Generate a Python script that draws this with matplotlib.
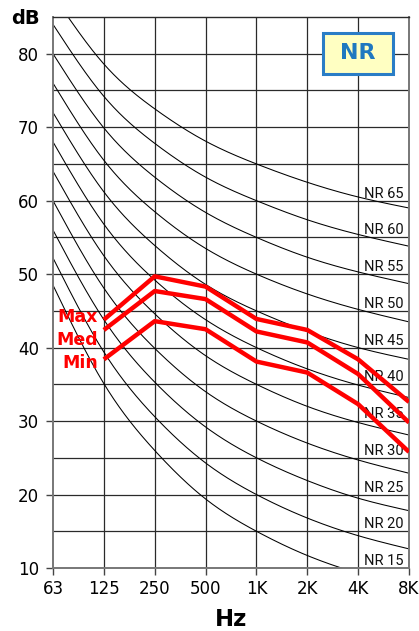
import numpy as np
import matplotlib
matplotlib.use("Agg")
import matplotlib.pyplot as plt
from matplotlib.patches import Rectangle

# ---------------- data ----------------
freq_labels = ["63", "125", "250", "500", "1K", "2K", "4K", "8K"]

# NR curve levels (dB) at the octave bands 63 ... 8K
nr_names = ["NR 15", "NR 20", "NR 25", "NR 30", "NR 35", "NR 40",
            "NR 45", "NR 50", "NR 55", "NR 60", "NR 65"]
nr15 = [48.5, 35.1, 26.0, 19.4, 15.0, 11.7, 9.3, 7.5]
nr20 = [52.2, 39.4, 30.6, 24.3, 20.0, 16.8, 14.4, 12.6]
nr25 = [56.0, 43.8, 35.3, 29.2, 25.0, 21.9, 19.5, 17.8]
nr30 = [60.0, 48.1, 39.9, 34.0, 30.0, 27.0, 24.7, 22.9]
nr35 = [64.0, 52.5, 44.6, 38.9, 35.0, 32.0, 29.8, 28.1]
nr40 = [68.0, 56.8, 49.2, 43.8, 40.0, 37.1, 34.9, 33.2]
nr45 = [72.0, 61.2, 53.9, 48.6, 45.0, 42.2, 40.0, 38.4]
nr50 = [76.0, 65.5, 58.5, 53.5, 50.0, 47.3, 45.2, 43.5]
nr55 = [80.0, 69.9, 63.2, 58.4, 55.0, 52.3, 50.3, 48.7]
nr60 = [84.0, 74.2, 67.8, 63.2, 60.0, 57.4, 55.4, 53.8]
nr65 = [88.0, 78.6, 72.5, 68.1, 65.0, 62.5, 60.5, 59.0]
nr_curves = [nr15, nr20, nr25, nr30, nr35, nr40, nr45, nr50, nr55, nr60, nr65]
nr_label_base = [10.4, 15.4, 20.4, 25.4, 30.4, 35.4, 40.4, 45.4, 50.4, 55.4, 60.4]

# measured spectra, 125 ... 8K
meas_names = ["Max", "Med", "Min"]
max_levels = [43.8, 49.7, 48.3, 43.9, 42.4, 38.4, 32.6]
med_levels = [42.4, 47.7, 46.6, 42.2, 40.7, 36.4, 29.8]
min_levels = [38.4, 43.6, 42.5, 38.1, 36.6, 32.3, 25.8]
meas_label_y = [44.1, 41.0, 37.9]

# ---------------- helpers ----------------
def natural_spline(x, y, xs):
    x = np.asarray(x, float); y = np.asarray(y, float)
    n = len(x)
    h = np.diff(x)
    A = np.zeros((n, n)); r = np.zeros(n)
    A[0, 0] = 1; A[-1, -1] = 1
    for i in range(1, n - 1):
        A[i, i - 1] = h[i - 1]
        A[i, i] = 2 * (h[i - 1] + h[i])
        A[i, i + 1] = h[i]
        r[i] = 6 * ((y[i + 1] - y[i]) / h[i] - (y[i] - y[i - 1]) / h[i - 1])
    M = np.linalg.solve(A, r)
    idx = np.clip(np.searchsorted(x, xs) - 1, 0, n - 2)
    x0 = x[idx]; x1 = x[idx + 1]; hh = x1 - x0
    t0 = x1 - xs; t1 = xs - x0
    return (M[idx] * t0**3 / (6 * hh) + M[idx + 1] * t1**3 / (6 * hh)
            + (y[idx] / hh - M[idx] * hh / 6) * t0
            + (y[idx + 1] / hh - M[idx + 1] * hh / 6) * t1)

# ---------------- figure ----------------
W, H = 419, 631
fig = plt.figure(figsize=(W / 100, H / 100), dpi=100)
ax = fig.add_axes([53 / W, (H - 568) / H, (409 - 53) / W, (568 - 17) / H])

xpos = np.arange(len(freq_labels))
ax.set_xlim(0, len(freq_labels) - 1)
ax.set_ylim(10, 85)

grid_c = "#2a2a2a"
for yv in np.arange(15, 85, 5):
    ax.axhline(yv, color=grid_c, lw=0.9, zorder=1)
for xv in xpos[1:-1]:
    ax.axvline(xv, color=grid_c, lw=0.9, zorder=1)

xs = np.linspace(0, len(freq_labels) - 1, 400)
for name, lv, yb in zip(nr_names, nr_curves, nr_label_base):
    ax.plot(xs, natural_spline(xpos, lv, xs), color="black", lw=0.75, zorder=2)
    ax.text(6.12, yb, name, ha="left", va="baseline", fontsize=10.5,
            family=["Roboto", "DejaVu Sans"], color="#111111", zorder=3)

red = "#ff0000"
for lv in (max_levels, med_levels, min_levels):
    ax.plot(xpos[1:], lv, color=red, lw=3.2, zorder=4,
            solid_capstyle="butt", solid_joinstyle="round")
for name, yv in zip(meas_names, meas_label_y):
    ax.text(0.88, yv, name, ha="right", va="center", fontsize=12.5,
            fontweight="bold", color=red, zorder=5)

# NR box
bx0 = (323 - 53) / 356; bx1 = (393 - 53) / 356
by0 = (568 - 74) / 551; by1 = (568 - 33) / 551
ax.add_patch(Rectangle((bx0, by0), bx1 - bx0, by1 - by0, transform=ax.transAxes,
                       facecolor="#ffffc2", edgecolor="#2a7dc6", lw=2.2, zorder=6))
ax.text((bx0 + bx1) / 2, (by0 + by1) / 2, "NR", transform=ax.transAxes,
        ha="center", va="center", fontsize=16, fontweight="bold",
        color="#1f78c0", zorder=7)

# axes styling
ax.set_xticks(xpos)
ax.set_xticklabels(freq_labels)
ax.set_yticks(np.arange(10, 81, 10))
ax.tick_params(axis="both", direction="out", length=5, width=1,
               color="#444444", labelsize=12, pad=4)
ax.tick_params(axis="y", pad=5)
for s in ax.spines.values():
    s.set_color("#777777")
    s.set_linewidth(1.4)
ax.spines["top"].set_color(grid_c)
ax.spines["top"].set_linewidth(1.0)

fig.text(25 / W, 1 - 18.5 / H, "dB", ha="center", va="center",
         fontsize=14, fontweight="heavy")
fig.text(231 / W, 1 - 620 / H, "Hz", ha="center", va="center",
         fontsize=16.5, fontweight="heavy")

fig.savefig("out.png", dpi=100)
